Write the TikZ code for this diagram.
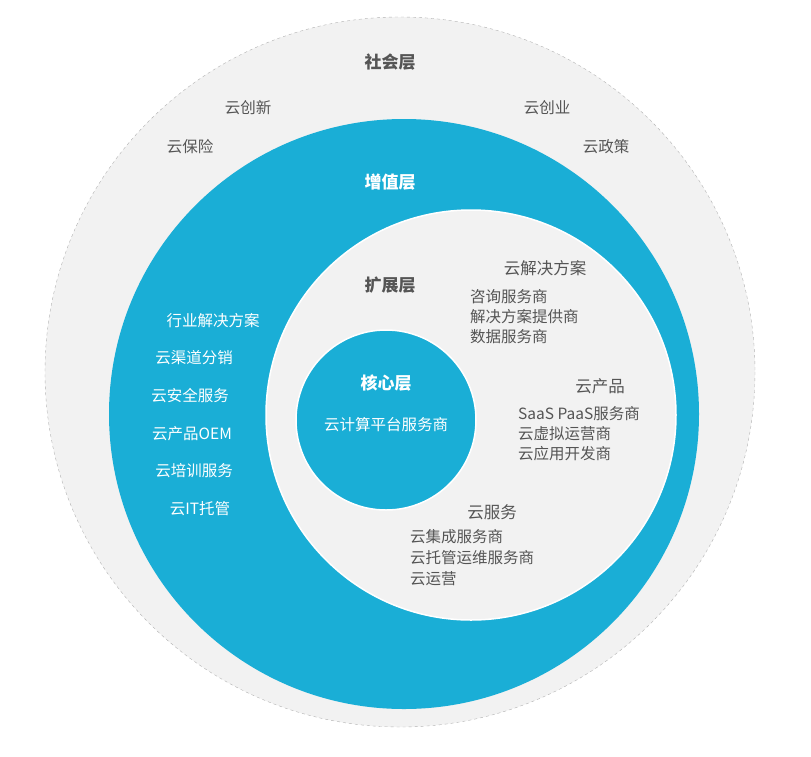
\documentclass[tikz,border=0pt]{standalone}
\usepackage{fontspec}
\setmainfont{Noto Sans CJK SC}
\definecolor{bl}{HTML}{1AAED6}
\definecolor{lg}{HTML}{F2F2F2}
\definecolor{tx}{HTML}{555555}
\begin{document}
\begin{tikzpicture}[x=1pt,y=-1pt,
  t/.style={font=\fontsize{15.5}{17}\selectfont,text=tx},
  w/.style={font=\fontsize{15.5}{17}\selectfont,text=white},
  h/.style={font=\fontsize{17}{19}\selectfont\bfseries,text=tx},
  hw/.style={font=\fontsize{17}{19}\selectfont\bfseries,text=white},
  l/.style={t,anchor=west,inner sep=0pt}]
\useasboundingbox (0,0) rectangle (811,756);
\fill[lg] (400,372) circle (355);
\draw[gray!60,dashed] (400,372) circle (355);
\fill[bl] (404,414) circle (295);
\fill[lg,draw=white,line width=1.5pt] (471,415) circle (205);
\fill[bl,draw=white,line width=1.5pt] (386,420) circle (90);
\node[h] (s) at (390,62) {社会层};
\node[t] (a1) at (248,108) {云创新};
\node[t] (a2) at (547,108) {云创业};
\node[t] (a3) at (190,147) {云保险};
\node[t] (a4) at (606,147) {云政策};
\node[hw] (z) at (390,182) {增值层};
\node[w] (b1) at (213,321) {行业解决方案};
\node[w] (b2) at (194,358) {云渠道分销};
\node[w] (b3) at (190,396) {云安全服务};
\node[w] (b4) at (192,434) {云产品OEM};
\node[w] (b5) at (194,471) {云培训服务};
\node[w] (b6) at (200,509) {云IT托管};
\node[h] (k) at (390,285) {扩展层};
\node[t,font=\fontsize{16.5}{18}\selectfont] (c) at (545,268) {云解决方案};
\node[l] (c1) at (470,297) {咨询服务商};
\node[l] (c2) at (470,317) {解决方案提供商};
\node[l] (c3) at (470,337) {数据服务商};
\node[t,font=\fontsize{16.5}{18}\selectfont] (d) at (600,386) {云产品};
\node[l] (d1) at (518,414) {SaaS PaaS服务商};
\node[l] (d2) at (518,434) {云虚拟运营商};
\node[l] (d3) at (518,454) {云应用开发商};
\node[t,font=\fontsize{16.5}{18}\selectfont] (e) at (492,512) {云服务};
\node[l] (e1) at (410,537) {云集成服务商};
\node[l] (e2) at (410,558) {云托管运维服务商};
\node[l] (e3) at (410,579) {云运营};
\node[hw] (co) at (386,383) {核心层};
\node[w] (co1) at (386,425) {云计算平台服务商};
\end{tikzpicture}
\end{document}
